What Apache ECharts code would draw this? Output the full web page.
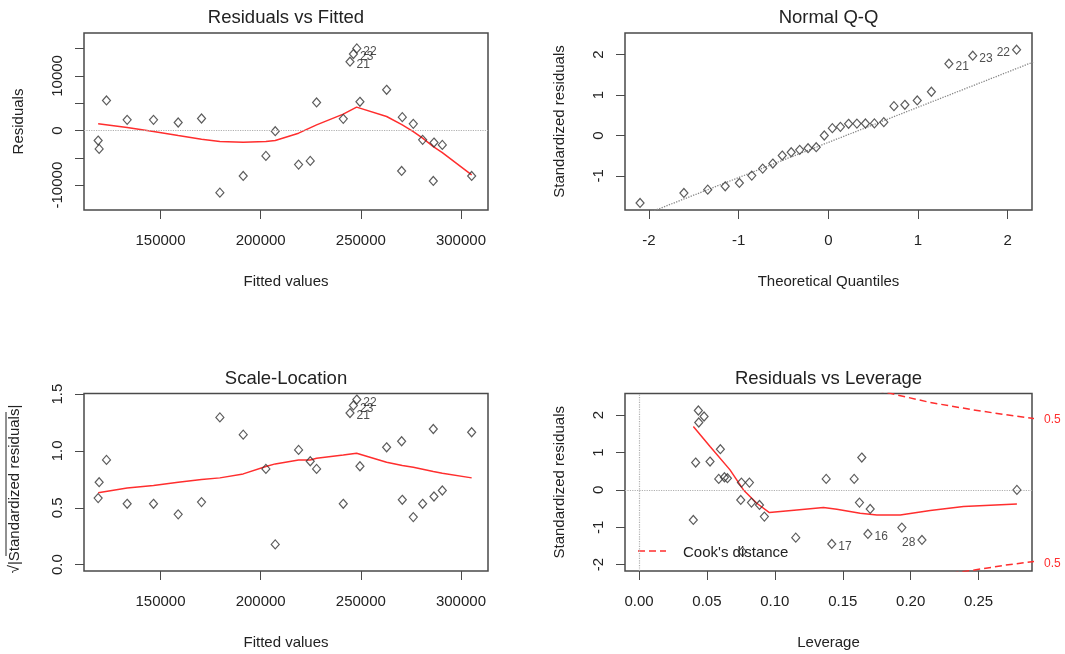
<!DOCTYPE html>
<html>
<head>
<meta charset="utf-8">
<script src="https://cdn.jsdelivr.net/npm/echarts@6/dist/echarts.min.js"></script>
<style>
  html, body { margin: 0; padding: 0; background: #fff; }
  #chart { width: 1065px; height: 654px; }
</style>
</head>
<body>
<div id="chart"></div>
<script>
// ---- lm diagnostics, 28 observations ----

// Residuals vs Fitted / Scale-Location share the fitted values
const fittedValues = [118865, 119365, 123028, 133351, 146504, 158825, 170480, 179637, 191292, 202614,
  207276, 218932, 224759, 227922, 241242, 249567, 244600, 248000, 246300, 262887,
  270713, 270380, 276207, 280869, 286530, 286197, 290693, 305345];
const residualValues = [-1835, -3364, 5505, 1957, 1957, 1468, 2202, -11377, -8318, -4648,
  -122, -6238, -5565, 5137, 2141, 5260, 12599, 15039, 14012, 7461,
  2446, -7400, 1223, -1712, -2202, -9235, -2630, -8318];
const sqrtStdResiduals = [0.585, 0.725, 0.921, 0.535, 0.535, 0.442, 0.550, 1.295, 1.143, 0.842,
  0.178, 1.009, 0.909, 0.842, 0.535, 0.865, 1.333, 1.452, 1.400, 1.032,
  0.570, 1.085, 0.418, 0.535, 0.599, 1.193, 0.652, 1.164];
const fittedLabelIndex = [16, 17, 18];
const fittedLabelText = ['21', '22', '23'];

// red smoother through Residuals vs Fitted
const residSmoothX = [118865, 133351, 146504, 158825, 170480, 179637, 191292, 202614, 207276, 218932,
  227922, 241242, 247900, 262887, 270713, 276207, 280869, 286197, 290693, 305345];
const residSmoothY = [1223, 550, -183, -917, -1590, -2018, -2141, -2018, -1835, -489,
  1040, 2997, 4281, 2569, 1040, -183, -1407, -2936, -4037, -8134];

// red smoother through Scale-Location
const scaleSmoothX = [118865, 133351, 146504, 158825, 170480, 179637, 191292, 202614, 207276, 218932,
  224759, 227922, 241242, 247900, 262887, 270713, 276207, 286197, 290693, 305345];
const scaleSmoothY = [0.632, 0.673, 0.696, 0.725, 0.749, 0.763, 0.798, 0.863, 0.886, 0.921,
  0.921, 0.936, 0.965, 0.980, 0.901, 0.871, 0.857, 0.819, 0.804, 0.763];

// Normal Q-Q
const qqTheoretical = [-2.100, -1.611, -1.345, -1.150, -0.992, -0.854, -0.732, -0.619, -0.514, -0.414,
  -0.319, -0.226, -0.135, -0.045, 0.045, 0.135, 0.226, 0.319, 0.414, 0.514,
  0.619, 0.732, 0.854, 0.992, 1.150, 1.345, 1.611, 2.100];
const qqSample = [-1.669, -1.421, -1.339, -1.256, -1.174, -0.992, -0.818, -0.694, -0.496, -0.413,
  -0.355, -0.314, -0.289, 0.000, 0.182, 0.215, 0.290, 0.295, 0.298, 0.300,
  0.331, 0.727, 0.760, 0.868, 1.083, 1.777, 1.975, 2.124];
const qqLabelIndex = [25, 26, 27];
const qqLabelText = ['21', '23', '22'];
const qqLineX = [-2.4, 2.4];
const qqLineY = [-2.258, 1.918];

// Residuals vs Leverage
const leverageValues = [0.0437, 0.0479, 0.0440, 0.0417, 0.0523, 0.0599, 0.0587, 0.0629, 0.0651, 0.0400,
  0.0754, 0.0813, 0.0749, 0.0828, 0.0887, 0.0923, 0.0761, 0.1154, 0.1378, 0.1419,
  0.1584, 0.1640, 0.1623, 0.1702, 0.1685, 0.1935, 0.2083, 0.2782];
const leverageStdResiduals = [2.125, 1.964, 1.804, 0.732, 0.759, 1.089, 0.295, 0.339, 0.313, -0.804,
  0.196, 0.196, -0.268, -0.339, -0.402, -0.714, -1.652, -1.277, 0.295, -1.446,
  0.295, 0.866, -0.339, -0.509, -1.179, -1.009, -1.339, 0.000];
const leverageLabelIndex = [19, 24, 26];
const leverageLabelText = ['17', '16', '28'];
const leverageSmoothX = [0.0400, 0.0523, 0.0670, 0.0769, 0.0867, 0.0960, 0.1162, 0.1358, 0.1456, 0.1628,
  0.1751, 0.1923, 0.2144, 0.2389, 0.2782];
const leverageSmoothY = [1.696, 1.161, 0.536, 0.000, -0.357, -0.607, -0.536, -0.473, -0.518, -0.625,
  -0.670, -0.670, -0.554, -0.446, -0.375];
// Cook's distance 0.5 contours
const cookUpperX = [0.175, 0.185, 0.2144, 0.2463, 0.2684, 0.2893, 0.300];
const cookUpperY = [2.66, 2.584, 2.34, 2.14, 2.02, 1.92, 1.87];
const cookLowerX = [0.230, 0.2439, 0.2684, 0.2893, 0.300];
const cookLowerY = [-2.23, -2.161, -2.02, -1.92, -1.87];

// ---- styling ----
const FONT = '"Liberation Sans", Arial, sans-serif';
const INK = '#222';
const FRAME = '#4a4a4a';
const RED = '#ff2e2e';

const zip = (xs, ys) => xs.map((x, i) => [x, ys[i]]);

function points(xs, ys, labelIndex, labelText, labelPos) {
  return xs.map((x, i) => {
    const item = { value: [x, ys[i]] };
    const k = labelIndex.indexOf(i);
    if (k >= 0) {
      item.label = { show: true, formatter: labelText[k], position: labelPos[k], distance: 2, offset: [0, 3] };
    }
    return item;
  });
}

function axis(kind, gridIndex, min, max, ticks, labels, fmt, name, nameGap) {
  const isY = kind === 'y';
  return {
    type: 'value', gridIndex, min, max,
    axisLine: { show: false, onZero: false },
    axisTick: { show: true, length: 9, customValues: ticks, lineStyle: { color: FRAME, width: 1 } },
    axisLabel: {
      customValues: labels, formatter: fmt, rotate: isY ? 90 : 0,
      fontSize: 15, fontFamily: FONT, color: INK, margin: isY ? 19 : 23
    },
    splitLine: { show: false },
    name, nameLocation: 'middle', nameGap, nameRotate: isY ? 90 : 0,
    nameTextStyle: { fontSize: 15, fontFamily: FONT, color: INK }
  };
}

function scatter(ai, data) {
  return {
    type: 'scatter', xAxisIndex: ai, yAxisIndex: ai, data, z: 4,
    symbol: 'diamond', symbolSize: [8, 9],
    itemStyle: { color: 'rgba(255,255,255,0)', borderColor: '#333', borderWidth: 1.2 },
    label: { show: false, fontSize: 12, fontFamily: FONT, color: INK }
  };
}

function line(ai, data, style) {
  return {
    type: 'line', xAxisIndex: ai, yAxisIndex: ai, data, symbol: 'none', silent: true,
    clip: true, z: 3, lineStyle: Object.assign({ color: RED, width: 1.5 }, style || {})
  };
}

function refLines(list) {
  return {
    silent: true, symbol: ['none', 'none'], animation: false, label: { show: false },
    lineStyle: { color: '#b0b0b0', type: 'dotted', width: 1.2 }, data: list
  };
}

const str = v => String(v);

const frame = { show: true, borderColor: FRAME, borderWidth: 1.5, backgroundColor: 'rgba(0,0,0,0)' };
const grid = [
  Object.assign({ left: 84, top: 33, width: 404, height: 177 }, frame),
  Object.assign({ left: 625, top: 33, width: 407, height: 177 }, frame),
  Object.assign({ left: 84, top: 393.5, width: 404, height: 177.5 }, frame),
  Object.assign({ left: 625, top: 393.5, width: 407, height: 177.5 }, frame)
];

const fittedTicks = [150000, 200000, 250000, 300000];

const xAxis = [
  axis('x', 0, 111800, 313500, fittedTicks, fittedTicks, str, 'Fitted values', 64),
  axis('x', 1, -2.268, 2.272, [-2, -1, 0, 1, 2], [-2, -1, 0, 1, 2], str, 'Theoretical Quantiles', 64),
  axis('x', 2, 111800, 313500, fittedTicks, fittedTicks, str, 'Fitted values', 64),
  axis('x', 3, -0.0103, 0.2893, [0, 0.05, 0.1, 0.15, 0.2, 0.25], [0, 0.05, 0.1, 0.15, 0.2, 0.25],
    v => v.toFixed(2), 'Leverage', 64)
];
const yAxis = [
  axis('y', 0, -14556, 17859, [-10000, -5000, 0, 5000, 10000, 15000], [-10000, 0, 10000], str, 'Residuals', 58),
  axis('y', 1, -1.843, 2.537, [-1, 0, 1, 2], [-1, 0, 1, 2], str, 'Standardized residuals', 58),
  axis('y', 2, -0.056, 1.505, [0, 0.5, 1, 1.5], [0, 0.5, 1, 1.5], v => v.toFixed(1), '', 58),
  axis('y', 3, -2.17, 2.58, [-2, -1, 0, 1, 2], [-2, -1, 0, 1, 2], str, 'Standardized residuals', 58)
];

const s1 = scatter(0, points(fittedValues, residualValues, fittedLabelIndex, fittedLabelText, ['right', 'right', 'right']));
s1.markLine = refLines([{ yAxis: 0 }]);
const s4 = scatter(3, points(leverageValues, leverageStdResiduals, leverageLabelIndex, leverageLabelText, ['right', 'right', 'left']));
s4.markLine = refLines([{ yAxis: 0 }, { xAxis: 0 }]);

const series = [
  s1,
  line(0, zip(residSmoothX, residSmoothY)),
  scatter(1, points(qqTheoretical, qqSample, qqLabelIndex, qqLabelText, ['right', 'right', 'left'])),
  line(1, zip(qqLineX, qqLineY), { color: '#888', type: 'dotted', width: 1.3 }),
  scatter(2, points(fittedValues, sqrtStdResiduals, fittedLabelIndex, fittedLabelText, ['right', 'right', 'right'])),
  line(2, zip(scaleSmoothX, scaleSmoothY)),
  s4,
  line(3, zip(leverageSmoothX, leverageSmoothY)),
  line(3, zip(cookUpperX, cookUpperY), { type: [7, 4] }),
  line(3, zip(cookLowerX, cookLowerY), { type: [7, 4] })
];

function title(text, x, y) {
  return {
    type: 'text', x, y, silent: true,
    style: { text, font: '18.5px ' + FONT, fill: INK, textAlign: 'center', textVerticalAlign: 'middle' }
  };
}

const graphic = [
  title('Residuals vs Fitted', 286, 18),
  title('Normal Q-Q', 828.5, 18),
  title('Scale-Location', 286, 379),
  title('Residuals vs Leverage', 828.5, 379),
  {
    type: 'text', x: 15, y: 489, rotation: Math.PI / 2, silent: true,
    style: { text: '\u221A|Standardized residuals|', font: '15px ' + FONT, fill: INK, textAlign: 'center', textVerticalAlign: 'middle' }
  },
  {
    type: 'line', silent: true, shape: { x1: 6, y1: 412, x2: 6, y2: 556 },
    style: { stroke: INK, lineWidth: 1 }
  },
  {
    type: 'line', silent: true, shape: { x1: 638, y1: 551, x2: 666, y2: 551 },
    style: { stroke: RED, lineWidth: 1.5, lineDash: [7, 4] }
  },
  {
    type: 'text', x: 683, y: 553, silent: true,
    style: { text: "Cook's distance", font: '15px ' + FONT, fill: INK, textAlign: 'left', textVerticalAlign: 'middle' }
  }
];

const chart = echarts.init(document.getElementById('chart'), null, { renderer: 'canvas' });
chart.setOption({ animation: false, backgroundColor: '#fff', grid, xAxis, yAxis, series, graphic });

// contour level tags just outside the right edge of the leverage panel
const lastUpper = chart.convertToPixel({ gridIndex: 3 }, [0.2893, cookUpperY[5]]);
const lastLower = chart.convertToPixel({ gridIndex: 3 }, [0.2893, cookLowerY[3]]);
graphic.push(
  { type: 'text', x: lastUpper[0] + 12, y: lastUpper[1] + 2, silent: true,
    style: { text: '0.5', font: '12px ' + FONT, fill: RED, textAlign: 'left', textVerticalAlign: 'middle' } },
  { type: 'text', x: lastLower[0] + 12, y: lastLower[1] + 2, silent: true,
    style: { text: '0.5', font: '12px ' + FONT, fill: RED, textAlign: 'left', textVerticalAlign: 'middle' } }
);
chart.setOption({ graphic });
</script>
</body>
</html>
